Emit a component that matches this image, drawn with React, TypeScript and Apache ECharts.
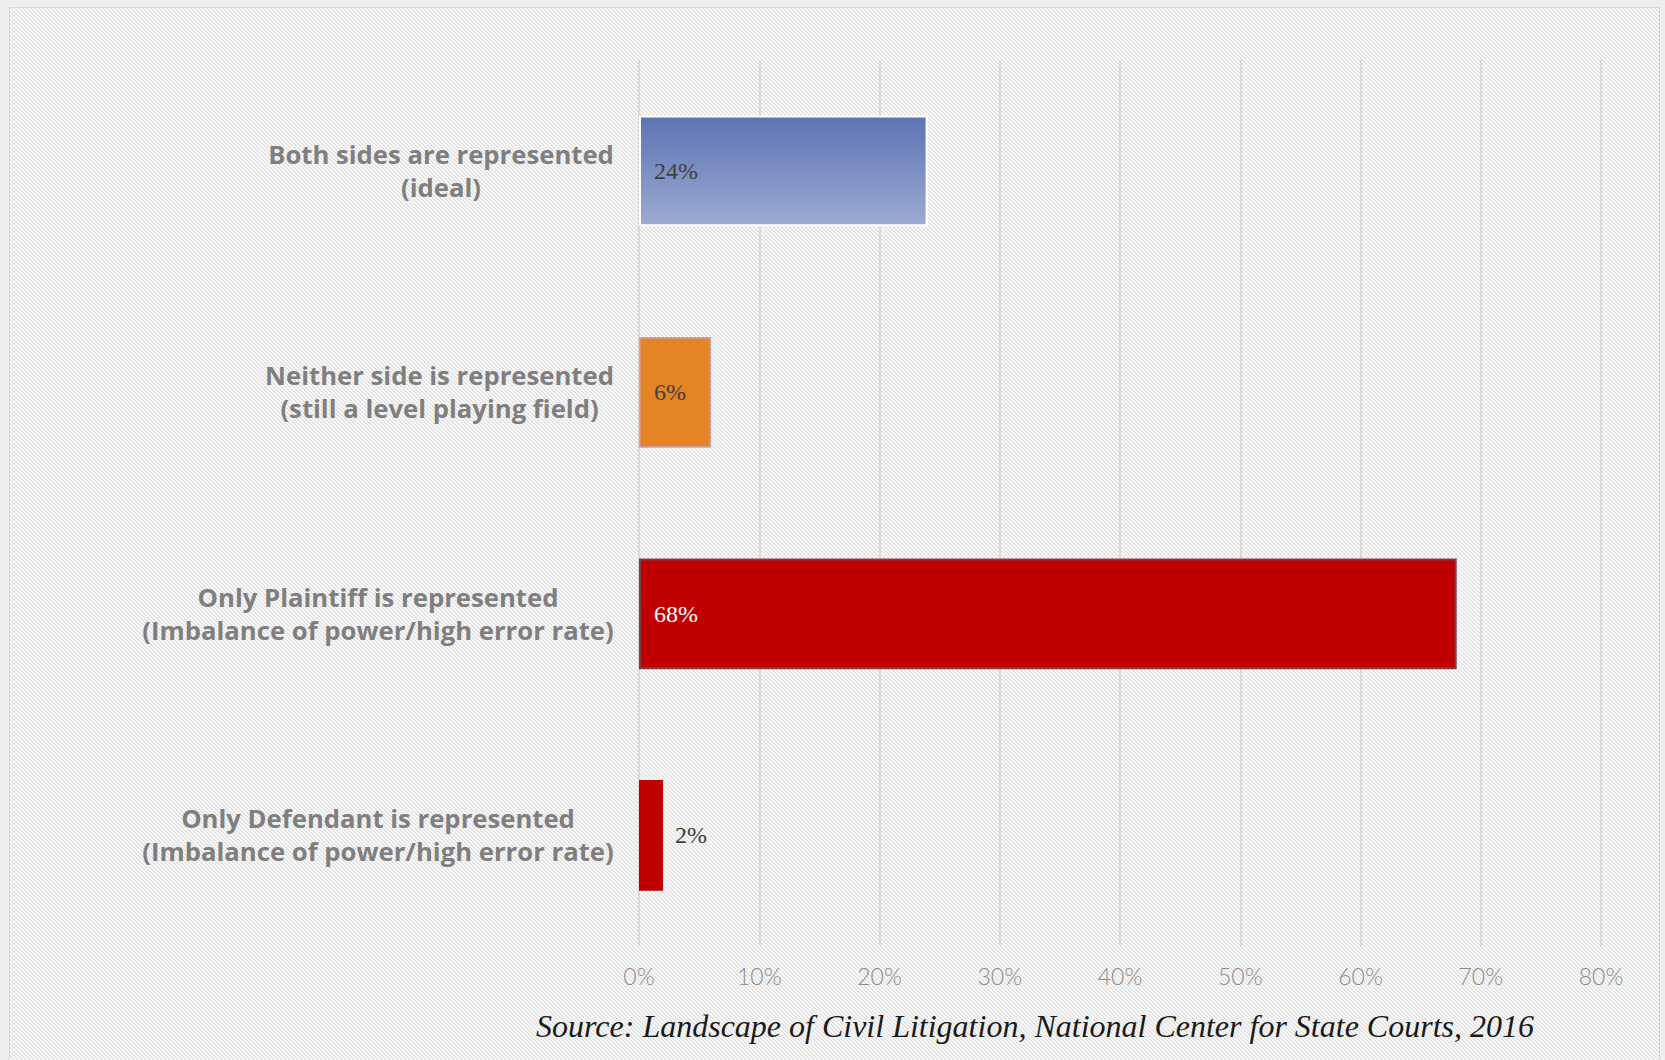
import React, { useEffect, useRef } from "react";
import * as echarts from "echarts";

const categories: string[] = [
  "Both sides are represented\n(ideal)",
  "Neither side is represented\n(still a level playing field)",
  "Only Plaintiff is represented\n(Imbalance of power/high error rate)",
  "Only Defendant is represented\n(Imbalance of power/high error rate)",
];
const values: number[] = [24, 6, 68, 2];
const tickValues: number[] = [0, 10, 20, 30, 40, 50, 60, 70, 80];
const sourceText = "Source: Landscape of Civil Litigation, National Center for State Courts, 2016";

const CAT_FONT_FAMILY = "'Open Sans', 'DejaVu Sans', sans-serif";
const CAT_FONT_SIZE = 25.7;

const TILE =
  "data:image/svg+xml;utf8," +
  encodeURIComponent(
    "<svg xmlns='http://www.w3.org/2000/svg' width='4' height='4' shape-rendering='crispEdges'>" +
      "<rect width='4' height='4' fill='#fbfbfb'/>" +
      "<rect x='0' y='0' width='2' height='1' fill='#e3e3e3'/>" +
      "<rect x='1' y='1' width='2' height='1' fill='#e3e3e3'/>" +
      "<rect x='2' y='2' width='2' height='1' fill='#e3e3e3'/>" +
      "<rect x='3' y='3' width='1' height='1' fill='#e3e3e3'/>" +
      "<rect x='0' y='3' width='1' height='1' fill='#e3e3e3'/>" +
      "</svg>"
  );

function measureLabelWidth(text: string): number {
  const c = document.createElement("canvas");
  const ctx = c.getContext("2d");
  if (!ctx) return 340;
  ctx.font = `bold ${CAT_FONT_SIZE}px ${CAT_FONT_FAMILY}`;
  return Math.ceil(Math.max(...text.split("\n").map((l) => ctx.measureText(l).width)));
}

export default function App() {
  const ref = useRef<HTMLDivElement>(null);
  useEffect(() => {
    if (!ref.current) return;
    const chart = echarts.init(ref.current, undefined, { renderer: "svg" });
    const rich: Record<string, any> = {};
    categories.forEach((c, i) => {
      rich["c" + i] = {
        width: measureLabelWidth(c),
        align: "center",
        fontFamily: CAT_FONT_FAMILY,
        fontSize: CAT_FONT_SIZE,
        fontWeight: "bold",
        color: "#7f7f7f",
        lineHeight: 33,
      };
    });
    const barStyles = [
      {
        color: new echarts.graphic.LinearGradient(0, 0, 0, 1, [
          { offset: 0, color: "#5c73b2" },
          { offset: 1, color: "#9dabd2" },
        ]),
        borderColor: "#ffffff",
        borderWidth: 2,
      },
      { color: "#e58425", borderColor: "#c9a3b3", borderWidth: 1.5 },
      { color: "#c00000", borderColor: "#7e3f48", borderWidth: 2 },
      { color: "#c00000", borderColor: "#c00000", borderWidth: 0 },
    ];
    const labelCfg = [
      { position: "insideLeft", distance: 15, color: "#404040" },
      { position: "insideLeft", distance: 15, color: "#404040" },
      { position: "insideLeft", distance: 15, color: "#ffffff" },
      { position: "right", distance: 12, color: "#404040" },
    ];
    chart.setOption({
      animation: false,
      backgroundColor: "transparent",
      grid: { left: 639, right: 64, top: 60, bottom: 114, containLabel: false },
      xAxis: {
        type: "value",
        min: tickValues[0],
        max: tickValues[tickValues.length - 1],
        interval: tickValues[1] - tickValues[0],
        axisLine: { show: false },
        axisTick: { show: false },
        splitLine: { show: true, lineStyle: { color: "#d9d9d9", width: 2 } },
        axisLabel: {
          formatter: "{value}%",
          color: "#8c8c8c",
          fontFamily: "Lato, sans-serif",
          fontWeight: 300,
          fontSize: 23,
          margin: 18,
        },
      },
      yAxis: {
        type: "category",
        inverse: true,
        data: categories,
        axisLine: { show: false },
        axisTick: { show: false },
        axisLabel: {
          margin: 25,
          formatter: (v: string, i: number) =>
            v.split("\n").map((l) => `{c${i}|${l}}`).join("\n"),
          rich,
        },
      },
      series: [
        {
          type: "bar",
          barCategoryGap: "50%",
          data: values.map((v, i) => ({
            value: v,
            itemStyle: barStyles[i],
            label: {
              show: true,
              formatter: "{c}%",
              fontFamily: "'Liberation Serif', serif",
              fontSize: 24,
              ...labelCfg[i],
            },
          })),
        },
      ],
      graphic: [
        {
          type: "text",
          x: 1035,
          y: 1026,
          style: {
            text: sourceText,
            fontFamily: "'Liberation Serif', serif",
            fontStyle: "italic",
            fontSize: 32,
            fill: "#1a1a1a",
            textAlign: "center",
            textVerticalAlign: "middle",
          },
        },
      ],
    });
    return () => chart.dispose();
  }, []);

  return (
    <div style={{ position: "absolute", left: 0, top: 0, width: 1665, height: 1060, background: "#eeeeee", overflow: "hidden" }}>
      <div
        style={{
          position: "absolute",
          left: 9,
          top: 7,
          width: 1651,
          height: 1060,
          boxSizing: "border-box",
          borderTop: "1px solid #d8d8d8",
          borderLeft: "1px solid #d8d8d8",
          borderRight: "1px solid #d8d8d8",
          backgroundColor: "#fbfbfb",
          backgroundImage: `url("${TILE}")`,
          backgroundRepeat: "repeat",
          backgroundSize: "4px 4px",
        }}
      />
      <div ref={ref} style={{ position: "absolute", left: 0, top: 0, width: 1665, height: 1060 }} />
    </div>
  );
}
